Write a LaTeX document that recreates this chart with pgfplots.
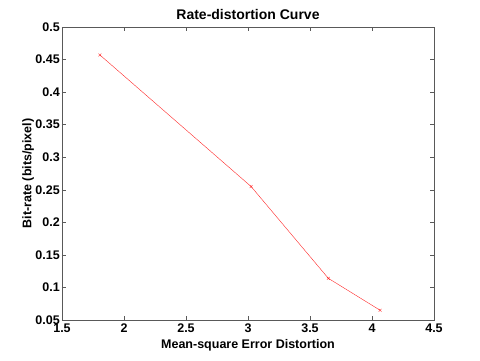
\documentclass[border=0pt]{standalone}
\usepackage{pgfplots}
\pgfplotsset{compat=1.18}
\usepackage{fontspec}
\setmainfont{Liberation Sans}
\begin{document}
\begin{tikzpicture}
\path[use as bounding box] (0,0) rectangle (480pt,360pt);
\begin{axis}[
  at={(62pt,40pt)}, anchor=south west,
  scale only axis, width=372pt, height=293pt,
  xmin=1.5, xmax=4.5, ymin=0.05, ymax=0.5,
  xtick={1.5,2,...,4.5},
  ytick={0.05,0.1,...,0.5},
  /pgf/number format/fixed,
  /pgf/number format/precision=2,
  /pgf/number format/assume math mode=true,
  tick align=inside,
  tick pos=both,
  major tick length=4pt,
  axis line style={gray!70!black, line width=0.6pt},
  every tick/.style={gray!70!black, line width=0.5pt},
  ticklabel style={font=\fontsize{12.5}{14}\selectfont\bfseries},
  xticklabel style={yshift=-3pt, inner sep=1pt},
  yticklabel style={inner sep=1pt, xshift=-1pt},
  label style={font=\fontsize{12.5}{14}\selectfont\bfseries},
  title style={font=\fontsize{14}{16}\selectfont\bfseries, yshift=-2pt},
  title={Rate-distortion Curve},
  xlabel={Mean-square Error Distortion},
  ylabel={Bit-rate (bits/pixel)},
  xlabel style={yshift=-2pt},
  ylabel style={yshift=-3pt},
]
\addplot[red!85!white, line width=0.4pt, mark=x, mark size=2pt] coordinates {
  (1.806,0.457) (3.025,0.255) (3.648,0.114) (4.065,0.065)
};
\end{axis}
\end{tikzpicture}
\end{document}
